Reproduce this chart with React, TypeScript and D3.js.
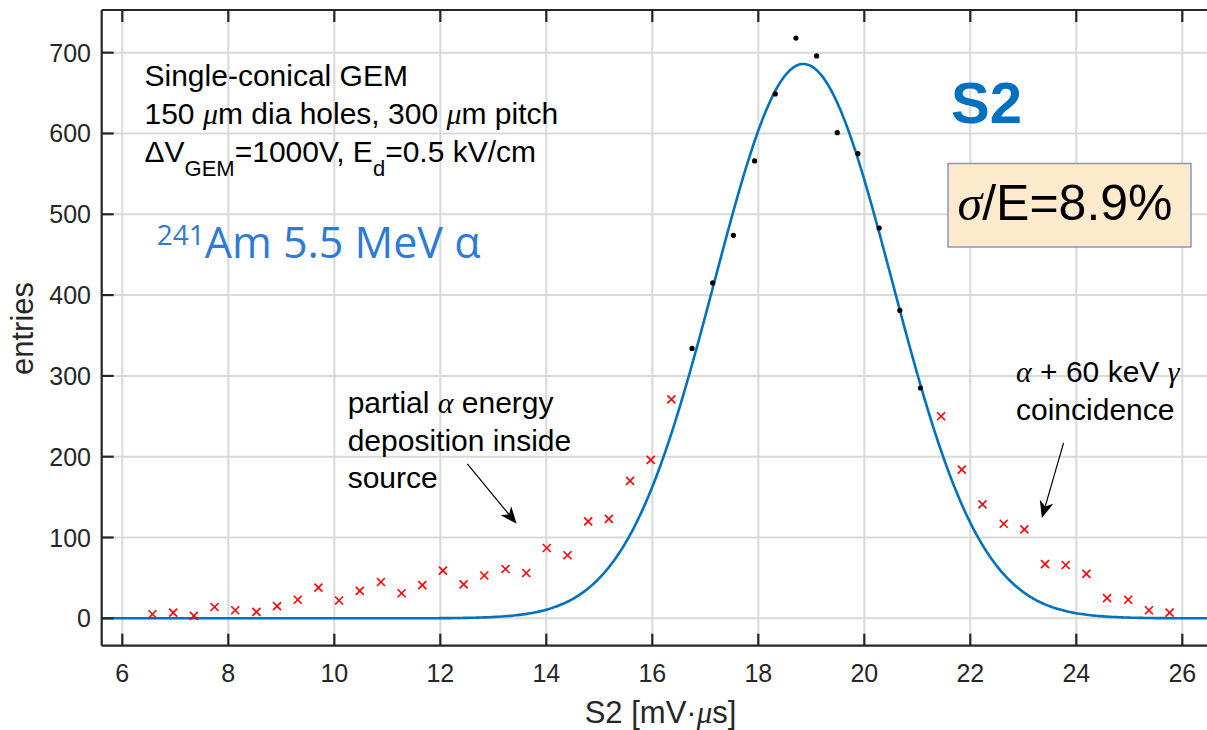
import React from "react";
import * as d3 from "d3";

// ---- data ----
const lowTailS2 = [6.57, 6.96, 7.35, 7.74, 8.13, 8.53, 8.92, 9.31, 9.70, 10.09, 10.48, 10.88, 11.27, 11.66, 12.05, 12.44, 12.83, 13.23, 13.62, 14.01, 14.40, 14.79, 15.18, 15.58, 15.97, 16.36];
const lowTailCounts = [5, 7, 3, 14, 10, 8, 15, 23, 38, 22, 34, 45, 31, 41, 59, 42, 53, 61, 56, 87, 78, 120, 123, 170, 196, 271];
const peakS2 = [16.75, 17.14, 17.53, 17.93, 18.32, 18.71, 19.10, 19.49, 19.88, 20.28, 20.67, 21.06];
const peakCounts = [334, 415, 474, 566, 649, 718, 696, 601, 575, 483, 381, 285];
const highTailS2 = [21.45, 21.84, 22.23, 22.63, 23.02, 23.41, 23.80, 24.19, 24.58, 24.98, 25.37, 25.76];
const highTailCounts = [250, 184, 141, 117, 110, 67, 66, 55, 25, 23, 10, 7];

// Gaussian fit parameters
const fitAmplitude = 686;
const fitMean = 18.85;
const fitSigma = 1.68;

const xTicks = [6, 8, 10, 12, 14, 16, 18, 20, 22, 24, 26];
const yTicks = [0, 100, 200, 300, 400, 500, 600, 700];

// annotation arrows in data units [fromX, fromY, toX, toY]
const arrowPartial = [12.51, 191, 13.44, 117];
const arrowCoinc = [23.76, 217, 23.35, 124];

const W = 1207;
const H = 730;
const left = 101.7, right = 1208.8, top = 10, bottom = 645.7;

const x = d3.scaleLinear().domain([5.611, 26.5]).range([left, right]);
const y = d3.scaleLinear().domain([-33.9, 752.8]).range([bottom, top]);

const SANS = "'Liberation Sans', Arial, Helvetica, sans-serif";
const SERIF = "'Liberation Serif', 'Times New Roman', serif";
const AXIS = "#262626";
const GRID = "#d9d9d9";

function Arrow({ a }: { a: number[] }) {
  const x1 = x(a[0]), y1 = y(a[1]), x2 = x(a[2]), y2 = y(a[3]);
  const ang = Math.atan2(y2 - y1, x2 - x1);
  const L = 17, Wd = 7, back = 12;
  const ca = Math.cos(ang), sa = Math.sin(ang);
  const p1 = [x2 - L * ca + Wd * sa, y2 - L * sa - Wd * ca];
  const p2 = [x2 - back * ca, y2 - back * sa];
  const p3 = [x2 - L * ca - Wd * sa, y2 - L * sa + Wd * ca];
  return (
    <g>
      <line x1={x1} y1={y1} x2={x2 - back * ca} y2={y2 - back * sa} stroke="#000" strokeWidth={1.2} />
      <polygon points={`${x2},${y2} ${p1[0]},${p1[1]} ${p2[0]},${p2[1]} ${p3[0]},${p3[1]}`} fill="#000" />
    </g>
  );
}

export default function App() {
  const gauss = (v: number) =>
    fitAmplitude * Math.exp(-((v - fitMean) ** 2) / (2 * fitSigma * fitSigma));
  const samples = d3.range(600).map((i) => 5.611 + (i / 599) * (26.5 - 5.611));
  const line = d3
    .line<number>()
    .x((d) => x(d))
    .y((d) => y(gauss(d)))
    .curve(d3.curveLinear);

  const crosses = [
    ...lowTailS2.map((s, i) => [s, lowTailCounts[i]]),
    ...highTailS2.map((s, i) => [s, highTailCounts[i]]),
  ];
  const cs = 4;

  return (
    <svg
      width={W}
      height={H}
      style={{ position: "absolute", left: 0, top: 0, background: "#fff" }}
      fontFamily={SANS}
    >
      <defs>
        <clipPath id="plotclip">
          <rect x={left} y={top} width={right - left} height={bottom - top} />
        </clipPath>
      </defs>
      <rect x={0} y={0} width={W} height={H} fill="#fff" />

      {/* grid */}
      <g stroke={GRID} strokeWidth={2}>
        {xTicks.map((t) => (
          <line key={"gx" + t} x1={x(t)} x2={x(t)} y1={top} y2={bottom} />
        ))}
        {yTicks.map((t) => (
          <line key={"gy" + t} x1={left} x2={right} y1={y(t)} y2={y(t)} />
        ))}
      </g>

      {/* fit curve */}
      <g clipPath="url(#plotclip)">
        <path d={line(samples) || ""} fill="none" stroke="#0072BD" strokeWidth={2.6} />
      </g>

      {/* red crosses */}
      <g stroke="#ff0000" strokeWidth={1.6}>
        {crosses.map(([s, c], i) => (
          <g key={"c" + i}>
            <line x1={x(s) - cs} y1={y(c) - cs} x2={x(s) + cs} y2={y(c) + cs} />
            <line x1={x(s) - cs} y1={y(c) + cs} x2={x(s) + cs} y2={y(c) - cs} />
          </g>
        ))}
      </g>

      {/* black dots */}
      <g fill="#000">
        {peakS2.map((s, i) => (
          <circle key={"d" + i} cx={x(s)} cy={y(peakCounts[i])} r={2.6} />
        ))}
      </g>

      {/* axes */}
      <g stroke={AXIS} strokeWidth={2.2} fill="none">
        <line x1={left} x2={right} y1={bottom} y2={bottom} />
        <line x1={left} x2={right} y1={top} y2={top} />
        <line x1={left} x2={left} y1={top} y2={bottom} />
        {xTicks.map((t) => (
          <g key={"tx" + t}>
            <line x1={x(t)} x2={x(t)} y1={bottom} y2={bottom - 12} />
            <line x1={x(t)} x2={x(t)} y1={top} y2={top + 12} />
          </g>
        ))}
        {yTicks.map((t) => (
          <line key={"ty" + t} x1={left} x2={left + 12} y1={y(t)} y2={y(t)} />
        ))}
      </g>

      {/* tick labels */}
      <g fill={AXIS} fontSize={25}>
        {xTicks.map((t) => (
          <text key={"lx" + t} x={x(t)} y={682} textAnchor="middle">
            {t}
          </text>
        ))}
        {yTicks.map((t) => (
          <text key={"ly" + t} x={91} y={y(t)} dy="0.36em" textAnchor="end">
            {t}
          </text>
        ))}
      </g>

      {/* axis labels */}
      <text x={660.5} y={723} textAnchor="middle" fontSize={31} fill={AXIS}>
        S2 [mV·<tspan fontFamily={SERIF} fontStyle="italic">μ</tspan>s]
      </text>
      <text
        transform="translate(33,328.5) rotate(-90)"
        textAnchor="middle"
        fontSize={31}
        fill={AXIS}
      >
        entries
      </text>

      {/* info text */}
      <g fontSize={30} fill="#000">
        <text x={144.5} y={86}>Single-conical GEM</text>
        <text x={144.5} y={124}>
          150 <tspan fontFamily={SERIF} fontStyle="italic">μ</tspan>m dia holes, 300{" "}
          <tspan fontFamily={SERIF} fontStyle="italic">μ</tspan>m pitch
        </text>
        <text x={144.5} y={162}>
          ΔV
          <tspan fontSize={22} dy={14}>GEM</tspan>
          <tspan dy={-14}>=1000V, E</tspan>
          <tspan fontSize={22} dy={14}>d</tspan>
          <tspan dy={-14}>=0.5 kV/cm</tspan>
        </text>
      </g>

      {/* isotope label */}
      <text x={156.7} y={258} fontFamily="'Open Sans', sans-serif" fill="#2E7BD6" fontSize={43}>
        <tspan fontSize={28} dy={-13}>241</tspan>
        <tspan dy={13}>Am 5.5 MeV α</tspan>
      </text>

      {/* S2 title */}
      <text x={986.5} y={123} textAnchor="middle" fontSize={58} fontWeight="bold" fill="#0070C0">
        S2
      </text>

      {/* resolution box */}
      <rect x={948} y={163.5} width={243} height={83.5} fill="#FDE9CC" stroke="#8C93C8" strokeWidth={1.5} />
      <text x={957.5} y={220} fontSize={50} fill="#000">
        <tspan fontFamily={SERIF} fontStyle="italic">σ</tspan>/E=8.9%
      </text>

      {/* annotations */}
      <g fontSize={30} fill="#000">
        <text x={347.7} y={413}>
          partial <tspan fontFamily={SERIF} fontStyle="italic">α</tspan> energy
        </text>
        <text x={347.7} y={450.5}>deposition inside</text>
        <text x={347.7} y={488}>source</text>
        <text x={1016} y={382}>
          <tspan fontFamily={SERIF} fontStyle="italic">α</tspan> + 60 keV{" "}
          <tspan fontFamily={SERIF} fontStyle="italic">γ</tspan>
        </text>
        <text x={1016} y={420}>coincidence</text>
      </g>
      <Arrow a={arrowPartial} />
      <Arrow a={arrowCoinc} />
    </svg>
  );
}
